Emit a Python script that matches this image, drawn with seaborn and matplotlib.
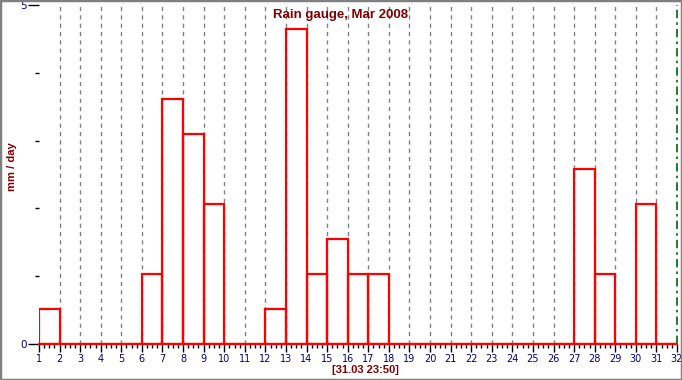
import matplotlib
matplotlib.use('Agg')
import matplotlib.pyplot as plt
from matplotlib.patches import Rectangle
from matplotlib.ticker import MultipleLocator, FixedLocator
import seaborn as sns
import pandas as pd

# daily rainfall, March 2008 (mm/day), bucket steps of ~0.516 mm
days = list(range(1, 32))
rain = [0.52, 0, 0, 0, 0, 1.03, 3.61, 3.10, 2.06, 0,
        0, 0.52, 4.64, 1.03, 1.55, 1.03, 1.03, 0, 0, 0,
        0, 0, 0, 0, 0, 0, 2.58, 1.03, 0, 2.06,
        0]
day_ticks = list(range(1, 33))
now_day = 32

df = pd.DataFrame({'day': days, 'rain': rain})

sns.set_style('white')
plt.rcParams['font.family'] = ['DejaVu Sans']

fig = plt.figure(figsize=(6.82, 3.8), dpi=100)
ax = fig.add_axes([39 / 682, 1 - 344 / 380, (677 - 39) / 682, (344 - 5) / 380])

# day separators
for d in day_ticks[1:-1]:
    ax.axvline(d, color='#808080', lw=1, ls=(0, (3, 3)), zorder=1)
ax.axvline(now_day, color='#006400', lw=1.2, ls=(0, (5, 2.5, 1.5, 2.5)),
           zorder=1, clip_on=False)

sns.histplot(data=df, x='day', weights='rain', binwidth=1, binrange=(1, 32),
             fill=False, element='bars', color='red', linewidth=1.6, ax=ax, zorder=3)
# empty days still show the outline at zero
ax.axhline(0, color='red', lw=1.6, zorder=3, clip_on=False)

ax.set_xlim(1, 32)
ax.set_ylim(0, 5)
for s in ax.spines.values():
    s.set_visible(False)

ax.xaxis.set_major_locator(FixedLocator(day_ticks))
ax.xaxis.set_minor_locator(MultipleLocator(0.25))
ax.set_xticklabels([str(d) for d in day_ticks])
ax.tick_params(axis='x', which='major', direction='out', length=6, width=1,
               color='black', labelsize=7, labelcolor='#000080', pad=1, bottom=True)
ax.tick_params(axis='x', which='minor', direction='out', length=3, width=1,
               color='black', bottom=True)

ax.yaxis.set_major_locator(FixedLocator([0, 5]))
ax.yaxis.set_minor_locator(FixedLocator([1, 2, 3, 4]))
ax.tick_params(axis='y', which='major', direction='out', length=8, width=1,
               color='black', labelsize=7.5, labelcolor='#000080', pad=1, left=True)
ax.tick_params(axis='y', which='minor', direction='out', length=3, width=1,
               color='black', left=True)

lab_font = dict(color='#800000', fontweight='bold', family='Liberation Sans')
ax.set_ylabel('mm / day', fontsize=8, **lab_font)
ax.yaxis.set_label_coords(-22 / 638, 1 - (167 - 5) / 339)
ax.set_xlabel('[31.03 23:50]', fontsize=8, labelpad=0, **lab_font)
ax.xaxis.set_label_coords((365 - 39) / 638, -21 / 339)
ax.set_title('Rain gauge, Mar 2008', fontsize=9.5, x=(341 - 39) / 638, y=0.962,
             pad=0, **lab_font)
ax.grid(False)

fig.patches.append(Rectangle((0, 0), 1, 1, transform=fig.transFigure, fill=False,
                             edgecolor='#808080', lw=2.5))

fig.savefig('out.png', dpi=100)
